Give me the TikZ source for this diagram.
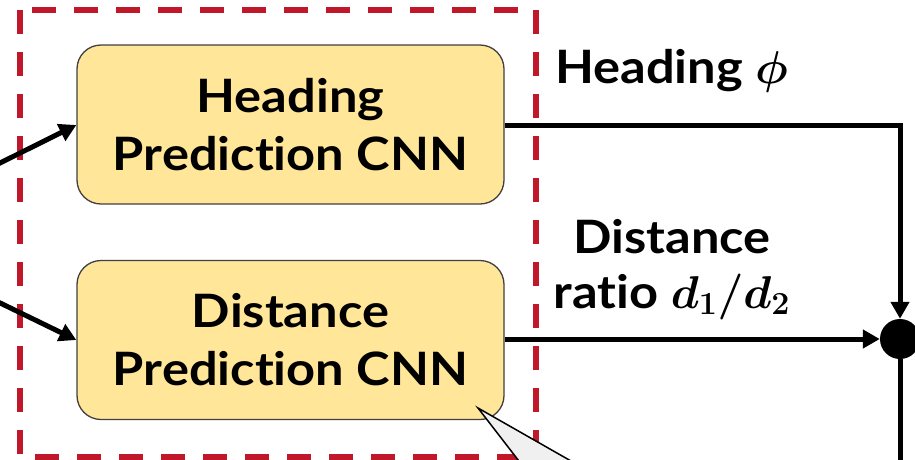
\RequirePackage{fix-cm}
\documentclass[tikz,border=0pt]{standalone}
\usepackage{fontspec}
\setmainfont{Lato}[FakeStretch=1.1, Ligatures=NoCommon]
\usetikzlibrary{arrows.meta}
\definecolor{boxfill}{HTML}{FFE699}
\definecolor{dashred}{HTML}{C0172B}
\definecolor{calloutfill}{HTML}{F0F0F0}
\begin{document}
\begin{tikzpicture}[x=1pt,y=-1pt,
  cnnbox/.style={draw=black!75, line width=1.3pt, fill=boxfill, rounded corners=24pt,
    minimum width=427pt, minimum height=159pt, align=center,
    font=\fontsize{46}{58}\selectfont\bfseries, inner sep=0pt},
  conn/.style={line width=5pt, -{Triangle[length=17pt,width=18pt]}},
  plain/.style={line width=5pt},
  lbl/.style={font=\fontsize{46}{58}\selectfont\bfseries\boldmath, inner sep=0pt}]
\useasboundingbox (0,0) rectangle (915,459);
% dashed group frame
\draw[dashred, line width=5.5pt, dash pattern=on 24pt off 18pt] (20,10) rectangle (536,457);
% boxes
\node[cnnbox] (hcnn) at (290.5,124.5) {Heading\\Prediction CNN};
\node[cnnbox] (dcnn) at (290.5,340) {Distance\\Prediction CNN};
% junction
\node[circle, fill=black, minimum size=40pt, inner sep=0pt] (junc) at (900,339) {};
% free ends
\coordinate (inA) at (-6,166);
\coordinate (inB) at (-6,300);
\coordinate (outC) at (900,470);
\coordinate (bend) at (900,125);
% input arrows
\draw[conn] (inA) -- (hcnn.west |- 0,125);
\draw[conn] (inB) -- (dcnn.west);
% outputs
\draw[conn] (hcnn.east |- 0,125) -- (bend) -- (junc.north);
\draw[conn] (dcnn.east |- 0,339) -- (junc.west);
\draw[plain] (junc.south) -- (outC);
% labels
\node[lbl, anchor=base west] (hl) at (555,83) {Heading $\phi$};
\node[lbl, anchor=base] (dl) at (672,253) {Distance};
\node[lbl, anchor=base] (dl2) at (672,308) {ratio $d_1/d_2$};
% callout
\coordinate (cA) at (478,408);
\coordinate (cB) at (522,465);
\coordinate (cC) at (578,465);
\draw[fill=calloutfill, line width=1.5pt, line join=miter] (cB) -- (cA) -- (cC);
\end{tikzpicture}
\end{document}
